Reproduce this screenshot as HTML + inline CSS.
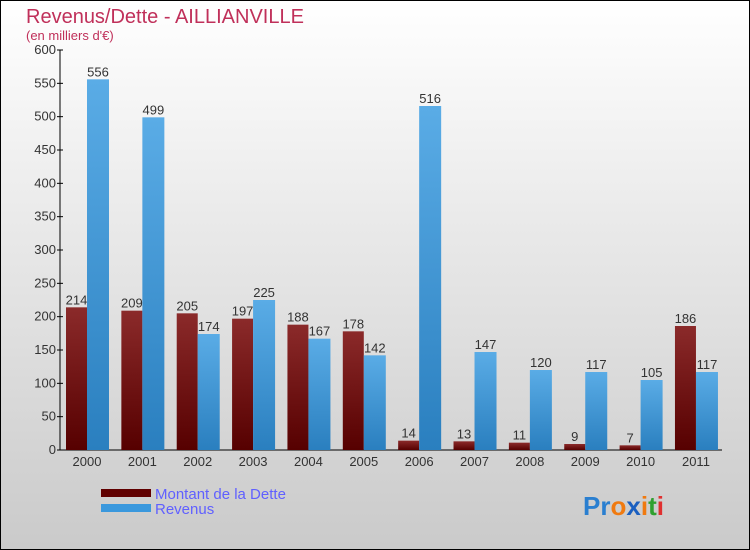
<!DOCTYPE html>
<html><head><meta charset="utf-8"><style>
body{margin:0;width:750px;height:550px;overflow:hidden}
svg{display:block;font-family:"Liberation Sans",sans-serif}
</style></head><body>
<svg width="750" height="550" viewBox="0 0 750 550" xmlns="http://www.w3.org/2000/svg">
<defs>
<linearGradient id="bg" x1="0" y1="0" x2="0" y2="1"><stop offset="0" stop-color="#ffffff"/><stop offset="1" stop-color="#cacaca"/></linearGradient>
<linearGradient id="gd" x1="0" y1="0" x2="0" y2="1"><stop offset="0" stop-color="#8b2a2a"/><stop offset="1" stop-color="#560000"/></linearGradient>
<linearGradient id="gr" x1="0" y1="0" x2="0" y2="1"><stop offset="0" stop-color="#5aace6"/><stop offset="1" stop-color="#2a7fbf"/></linearGradient>
</defs>
<rect x="0.5" y="0.5" width="749" height="549" fill="url(#bg)" stroke="#000"/>
<text x="26" y="23" font-size="20" fill="#c0305a">Revenus/Dette - AILLIANVILLE</text>
<text x="26" y="40" font-size="13" fill="#c0305a">(en milliers d'€)</text>
<g id="plot"></g>
<g>
<rect x="101" y="489" width="50" height="8" fill="#600000"/>
<text x="155" y="499" font-size="15" fill="#6060ff">Montant de la Dette</text>
<rect x="101" y="504" width="50" height="8" fill="#3a98dd"/>
<text x="155" y="514" font-size="15" fill="#6060ff">Revenus</text>
</g>
<text x="583" y="515" font-size="26" font-weight="bold"><tspan fill="#2a7fd0">Pr</tspan><tspan fill="#f07a10">o</tspan><tspan fill="#1a5fc0">x</tspan><tspan fill="#f07a10">i</tspan><tspan fill="#30a030">t</tspan><tspan fill="#e03030">i</tspan></text>
</svg>
<script>
const categories=["2000","2001","2002","2003","2004","2005","2006","2007","2008","2009","2010","2011"];
const dette=[214,209,205,197,188,178,14,13,11,9,7,186];
const revenus=[556,499,174,225,167,142,516,147,120,117,105,117];
const yTicks=[0,50,100,150,200,250,300,350,400,450,500,550,600];
const NS="http://www.w3.org/2000/svg";
const g=document.getElementById('plot');
const y=v=>450-v*(400/600);
const xc=i=>87+i*55.36;
function mk(t,a,txt){const e=document.createElementNS(NS,t);for(const k in a)e.setAttribute(k,a[k]);if(txt!==undefined)e.textContent=txt;g.appendChild(e);return e;}
let e=mk('line',{x1:60,y1:50,x2:60,y2:450,stroke:'#000'});


e=mk('line',{x1:60,y1:450,x2:722,y2:450,stroke:'#000'});


yTicks.forEach(t=>{
 let l=mk('line',{x1:57,y1:y(t),x2:63,y2:y(t),stroke:'#000'});
 
 
 let tx=mk('text',{x:56,y:y(t)+4,'font-size':13,fill:'#333','text-anchor':'end'},t);
 
 
});
categories.forEach((c,i)=>{
 const cx=xc(i);
 let b=mk('rect',{x:cx-21,y:y(dette[i]),width:21,height:450-y(dette[i]),fill:'url(#gd)'});
 
 
 let r=mk('rect',{x:cx,y:y(revenus[i]),width:22,height:450-y(revenus[i]),fill:'url(#gr)'});
 
 
 let t1=mk('text',{x:cx-10.5,y:y(dette[i])-3,'font-size':13,fill:'#333','text-anchor':'middle'},dette[i]);
 
 
 let t2=mk('text',{x:cx+11,y:y(revenus[i])-3,'font-size':13,fill:'#333','text-anchor':'middle'},revenus[i]);
 
 
 let xl=mk('text',{x:cx,y:466,'font-size':13,fill:'#333','text-anchor':'middle'},c);
 
 
});
</script>
</body></html>
